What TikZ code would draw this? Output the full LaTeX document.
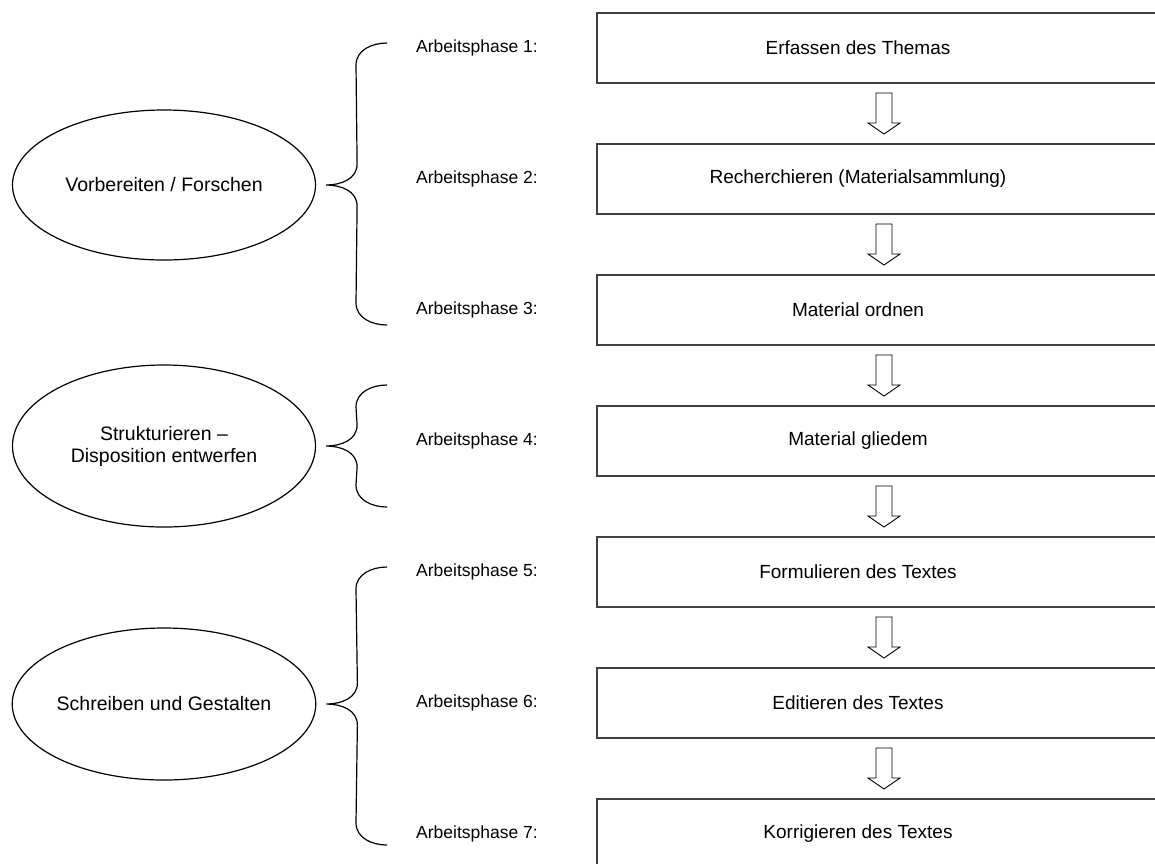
\documentclass[tikz,border=0pt]{standalone}
\usepackage{fontspec}
\setmainfont{Liberation Sans}
\usepackage{tikz}
\usetikzlibrary{shapes, calc, positioning}
\tikzset{
	phasebox/.style={rectangle, draw=black!75, line width=2pt, minimum width=574pt, minimum height=70pt, inner sep=0pt},
	boxtext/.style={xshift=-26pt, font=\fontsize{19}{22}\selectfont},
	phaselabel/.style={anchor=west, inner sep=0pt, font=\fontsize{17.5}{21}\selectfont},
	stage/.style={ellipse, draw, line width=1.2pt, minimum width=303pt, minimum height=150pt, inner sep=0pt, align=center, font=\fontsize{19.5}{22}\selectfont},
	bracket/.style={draw, line width=1.2pt},
	downarrow/.pic={
		\draw[line width=0.9pt] (-8,-20.5) -- (-8,9.5) -- (-16,9.5) -- (0,20.5) -- (16,9.5) -- (8,9.5) -- (8,-20.5) -- cycle;
	}
}

\begin{document}
\begin{tikzpicture}[x=1pt, y=-1pt]
	\useasboundingbox (0,0) rectangle (1155,863);
	\clip (0,0) rectangle (1155,863);
	% the work phases
	\foreach \i/\txt in {1/Erfassen des Themas, 2/Recherchieren (Materialsammlung), 3/Material ordnen, 4/Material gliedem, 5/Formulieren des Textes, 6/Editieren des Textes, 7/Korrigieren des Textes}
	{
		\node[phasebox, label={[boxtext]center:\txt}] (b\i) at (884, {48+131*(\i-1)}) {};
		\node[phaselabel] (l\i) at (416, {48+131*(\i-1)}) {Arbeitsphase \i:};
	}
	% arrows between the phases
	\foreach \i [evaluate=\i as \j using int(\i+1)] in {1,...,6}
		\pic at ($(b\i.south)!.5!(b\j.north)$) {downarrow};
	% the three stages
	\node[stage] (s1) at (164,185) {Vorbereiten / Forschen};
	\node[stage, minimum height=162pt] (s2) at (164,446) {Strukturieren --\\Disposition entwerfen};
	\node[stage, minimum height=152pt] (s3) at (164,704) {Schreiben und Gestalten};
	% braces
	\foreach \n/\ya/\yb in {1/43/325, 2/385/507, 3/567/845}
	{
		\coordinate (t\n) at ([xshift=10pt]s\n.east);
		\coordinate (ka\n) at (387,\ya);
		\coordinate (kb\n) at (387,\yb);
		\draw[bracket] (t\n) .. controls +(15,0) and +(0,15) .. ++(31,-21) -- ([shift={(-31,22)}]ka\n) .. controls +(0,-15) and +(-15,0) .. (ka\n)
			(t\n) .. controls +(15,0) and +(0,-15) .. ++(31,21) -- ([shift={(-31,-22)}]kb\n) .. controls +(0,15) and +(-15,0) .. (kb\n);
	}
\end{tikzpicture}
\end{document}
